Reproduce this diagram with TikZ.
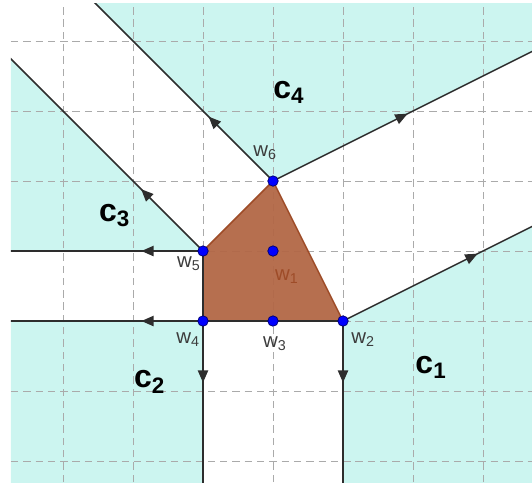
\documentclass[tikz,border=0pt]{standalone}
\usepackage{fontspec}
\setmainfont{Liberation Sans}
\usetikzlibrary{decorations.markings,arrows.meta}
\definecolor{regcyan}{RGB}{204,245,240}
\definecolor{polyfill}{RGB}{178,103,70}
\definecolor{polyedge}{RGB}{158,76,40}
\definecolor{gridgray}{RGB}{170,170,170}
\definecolor{linegray}{RGB}{45,45,45}
\definecolor{labgray}{RGB}{60,60,60}
\begin{document}
\begin{tikzpicture}[
 x=1cm,y=1cm,
 line/.style={line width=.6pt,draw=linegray},
 ray/.style={line,postaction={decorate},decoration={markings,
   mark=at position #1 with {\arrow{Triangle[length=5pt,width=4.2pt]}}}},
 region/.style={fill=regcyan},
 gridline/.style={gridgray,line width=.4pt,dash pattern=on 3pt off 2pt},
 vertex/.style={circle,fill=blue,draw=blue!45!black,line width=.3pt,inner sep=1.5pt},
 wlabel/.style={font=\fontsize{8.3}{10}\selectfont,text=labgray,inner sep=0pt},
 clabel/.style={font=\fontsize{13}{15}\selectfont\bfseries,inner sep=0pt}]
 \useasboundingbox (-3.9,-2.314) rectangle (3.7,4.586);
 % Vertices of the polygon and far ends of the rays.
 \coordinate (w1) at (0,1); \coordinate (w2) at (1,0);
 \coordinate (w3) at (0,0); \coordinate (w4) at (-1,0);
 \coordinate (w5) at (-1,1); \coordinate (w6) at (0,2);
 \coordinate (e6a) at (-4,6); \coordinate (e6b) at (4,4);
 \coordinate (e5d) at (-4,4); \coordinate (e5h) at (-4,1);
 \coordinate (e4h) at (-4,0); \coordinate (e4v) at (-1,-3);
 \coordinate (e2v) at (1,-3); \coordinate (e2d) at (4,1.5);
 \begin{scope}
  \clip (-3.743,-2.3) rectangle (3.7,4.53);
  % Cyan cells c1..c4.
  \fill[region] (w6)--(e6a)--(4,6)--(e6b)--cycle;
  \fill[region] (w5)--(e5d)--(e5h)--cycle;
  \fill[region] (w4)--(e4h)--(-4,-3)--(e4v)--cycle;
  \fill[region] (w2)--(e2v)--(4,-3)--(e2d)--cycle;
  \foreach \x in {-3,...,3}{\draw[gridline] (\x,-2.3)--(\x,4.53);}
  \foreach \y in {-2,...,4}{\draw[gridline] (-3.743,\y)--(3.7,\y);}
  % Polygon.
  \fill[polyfill,fill opacity=.95] (w4)--(w2)--(w6)--(w5)--cycle;
  \draw[polyedge,line width=.6pt] (w5)--(w6)--(w2);
  \draw[line] (w4)--(w2) (w4)--(w5);
  % Rays.
  \draw[ray=1.3cm] (w6)--(e6a);
  \draw[ray=2.15cm] (w6)--(e6b);
  \draw[ray=1.25cm] (w5)--(e5d);
  \draw[ray=.88cm] (w5)--(e5h);
  \draw[ray=.88cm] (w4)--(e4h);
  \draw[ray=.88cm] (w4)--(e4v);
  \draw[ray=.88cm] (w2)--(e2v);
  \draw[ray=2.15cm] (w2)--(e2d);
 \end{scope}
 \foreach \v in {w1,w2,w3,w4,w5,w6}{\node[vertex] (p\v) at (\v){};}
 % Labels.
 \node[wlabel,text=polyedge] (lw1) at (0.2,0.63) {w\textsubscript{1}};
 \node[wlabel] (lw2) at (1.29,-0.27) {w\textsubscript{2}};
 \node[wlabel] (lw3) at (0.03,-0.32) {w\textsubscript{3}};
 \node[wlabel] (lw4) at (-1.21,-0.26) {w\textsubscript{4}};
 \node[wlabel] (lw5) at (-1.2,0.82) {w\textsubscript{5}};
 \node[wlabel] (lw6) at (-0.11,2.4) {w\textsubscript{6}};
 \node[clabel] (c1) at (2.26,-0.66) {c\textsubscript{1}};
 \node[clabel] (c2) at (-1.76,-0.87) {c\textsubscript{2}};
 \node[clabel] (c3) at (-2.26,1.51) {c\textsubscript{3}};
 \node[clabel] (c4) at (0.23,3.27) {c\textsubscript{4}};
\end{tikzpicture}
\end{document}
